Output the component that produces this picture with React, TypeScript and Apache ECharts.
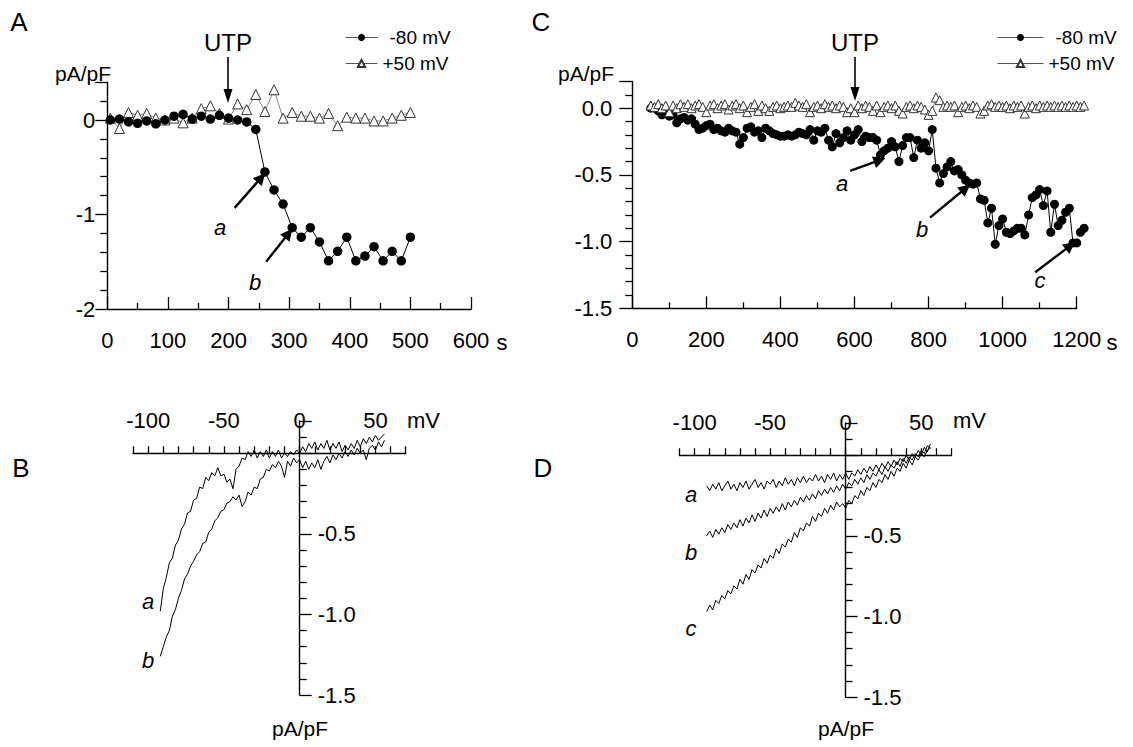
import React, { useEffect, useRef } from 'react';
import * as echarts from 'echarts';

const FONT = "'Liberation Sans', Arial, Helvetica, sans-serif";

// ---------- Panel A (time course, 0-600 s) ----------
const A_TIME = [5, 20, 35, 50, 65, 80, 95, 110, 125, 140, 155, 170, 185, 200, 215, 230, 245, 260, 275, 290, 305, 320, 335, 350, 365, 380, 395, 410, 425, 440, 455, 470, 485, 500];
const A_NEG80 = [0.0, 0.01, -0.02, -0.035, -0.01, -0.04, 0.0, 0.04, 0.06, 0.01, 0.04, 0.01, 0.05, 0.02, 0.0, -0.02, -0.1, -0.55, -0.74, -0.89, -1.14, -1.24, -1.14, -1.29, -1.49, -1.39, -1.24, -1.49, -1.44, -1.34, -1.49, -1.39, -1.49, -1.24];
const A_POS50 = [0.02, -0.09, 0.08, 0.05, 0.07, 0.02, 0.0, 0.02, -0.03, 0.02, 0.12, 0.15, 0.07, 0.01, 0.17, 0.11, 0.27, 0.09, 0.32, 0.02, 0.08, 0.04, 0.04, 0.02, 0.07, -0.06, 0.03, 0.02, 0.02, -0.01, -0.01, 0.02, 0.05, 0.08];
const A_X_LABELS = [0, 100, 200, 300, 400, 500, 600];
const A_Y_LABELS = [-2, -1, 0];

// ---------- Panel C (time course, 0-1200 s) ----------
const C_TIME = [
  50, 60, 70, 80, 90, 100, 110, 120, 130, 140,
  150, 160, 170, 180, 190, 200, 210, 220, 230, 240,
  250, 260, 270, 280, 290, 300, 310, 320, 330, 340,
  350, 360, 370, 380, 390, 400, 410, 420, 430, 440,
  450, 460, 470, 480, 490, 500, 510, 520, 530, 540,
  550, 560, 570, 580, 590, 600, 610, 620, 630, 640,
  650, 660, 670, 680, 690, 700, 710, 720, 730, 740,
  750, 760, 770, 780, 790, 800, 810, 820, 830, 840,
  850, 860, 870, 880, 890, 900, 910, 920, 930, 940,
  950, 960, 970, 980, 990, 1000, 1010, 1020, 1030, 1040,
  1050, 1060, 1070, 1080, 1090, 1100, 1110, 1120, 1130, 1140,
  1150, 1160, 1170, 1180, 1190, 1200, 1210, 1220,
];
const C_NEG80 = [
  0.0, 0.0, -0.02, -0.05, -0.04, -0.06, -0.05, -0.11, -0.08, -0.07,
  -0.09, -0.08, -0.12, -0.16, -0.15, -0.13, -0.12, -0.16, -0.15, -0.17,
  -0.18, -0.15, -0.17, -0.18, -0.27, -0.22, -0.15, -0.14, -0.18, -0.17,
  -0.22, -0.15, -0.17, -0.19, -0.2, -0.21, -0.21, -0.2, -0.21, -0.2,
  -0.18, -0.19, -0.2, -0.16, -0.24, -0.17, -0.18, -0.15, -0.24, -0.29,
  -0.19, -0.26, -0.22, -0.17, -0.24, -0.2, -0.16, -0.25, -0.21, -0.22,
  -0.22, -0.24, -0.35, -0.32, -0.3, -0.25, -0.29, -0.4, -0.28, -0.22,
  -0.22, -0.37, -0.24, -0.3, -0.26, -0.32, -0.16, -0.45, -0.56, -0.49,
  -0.44, -0.4, -0.47, -0.46, -0.5, -0.54, -0.56, -0.57, -0.56, -0.68,
  -0.69, -0.86, -0.75, -1.02, -0.88, -0.83, -0.93, -0.94, -0.92, -0.9,
  -0.9, -0.95, -0.8, -0.67, -0.65, -0.61, -0.73, -0.62, -0.93, -0.72,
  -0.88, -0.84, -0.78, -0.75, -1.01, -1.01, -0.93, -0.9,
];
const C_POS50 = [
  0.02, 0.01, 0.03, 0.0, 0.02, -0.03, 0.02, 0.0, 0.03, 0.01,
  0.03, 0.0, 0.02, 0.03, 0.01, -0.03, 0.02, 0.03, 0.0, 0.02,
  0.03, -0.01, 0.02, 0.03, 0.0, 0.02, -0.03, 0.01, 0.03, -0.02,
  0.02, 0.0, -0.02, 0.01, 0.02, 0.0, 0.01, 0.02, 0.01, 0.04,
  0.02, 0.01, 0.03, -0.03, 0.01, 0.02, 0.0, 0.03, 0.01, 0.02,
  0.0, 0.02, 0.01, -0.03, 0.0, -0.03, 0.02, 0.0, 0.02, 0.01,
  -0.02, 0.02, -0.03, 0.01, 0.02, 0.0, 0.02, -0.02, -0.04, 0.01,
  0.02, 0.0, 0.02, 0.01, -0.01, -0.05, -0.02, 0.08, 0.06, 0.01,
  0.02, 0.01, 0.02, -0.03, 0.01, 0.02, 0.0, 0.02, 0.01, -0.04,
  -0.02, 0.02, 0.03, 0.01, 0.02, 0.01, 0.02, 0.0, 0.02, 0.01,
  0.02, -0.04, 0.01, 0.02, 0.0, 0.02, 0.01, 0.02, 0.01, 0.02,
  0.01, 0.02, 0.01, 0.02, 0.01, 0.02, 0.01, 0.02,
];
const C_X_LABELS = [0, 200, 400, 600, 800, 1000, 1200];
const C_Y_LABELS = [-1.5, -1.0, -0.5, 0.0];

// ---------- Panels B and D (I-V ramps) ----------
const IV_MV = [
  -92, -90, -88, -86, -84, -82, -80, -78, -76, -74,
  -72, -70, -68, -66, -64, -62, -60, -58, -56, -54,
  -52, -50, -48, -46, -44, -42, -40, -38, -36, -34,
  -32, -30, -28, -26, -24, -22, -20, -18, -16, -14,
  -12, -10, -8, -6, -4, -2, 0, 2, 4, 6,
  8, 10, 12, 14, 16, 18, 20, 22, 24, 26,
  28, 30, 32, 34, 36, 38, 40, 42, 44, 46,
  48, 50, 52, 54, 56,
];
const B_A = [
  -0.98, -0.84, -0.77, -0.68, -0.65, -0.57, -0.54, -0.47, -0.44, -0.37,
  -0.36, -0.29, -0.28, -0.21, -0.22, -0.15, -0.17, -0.12, -0.14, -0.09,
  -0.14, -0.13, -0.18, -0.16, -0.22, -0.1, -0.08, -0.03, -0.04, 0.01,
  -0.02, 0.02, -0.03, 0.01, -0.02, 0.02, -0.03, 0.01, -0.02, 0.02,
  -0.03, 0.0, -0.02, 0.01, -0.01, 0.02, 0.0, 0.04, 0.01, 0.06,
  0.03, 0.07, 0.02, 0.06, 0.03, 0.08, 0.02, 0.06, 0.03, 0.07,
  0.01, 0.05, 0.02, 0.06, 0.03, 0.08, 0.04, 0.09, 0.06, 0.1,
  0.07, 0.11, 0.08, 0.1, 0.12,
];
const B_B = [
  -1.26, -1.2, -1.14, -1.1, -1.01, -0.97, -0.9, -0.85, -0.78, -0.75,
  -0.7, -0.67, -0.63, -0.61, -0.56, -0.55, -0.49, -0.47, -0.42, -0.4,
  -0.36, -0.35, -0.31, -0.3, -0.27, -0.29, -0.26, -0.33, -0.3, -0.24,
  -0.26, -0.21, -0.22, -0.16, -0.15, -0.1, -0.11, -0.07, -0.09, -0.05,
  -0.08, -0.15, -0.05, -0.08, -0.03, -0.06, -0.04, -0.09, -0.05, -0.1,
  -0.06, -0.09, -0.04, -0.1, -0.05, -0.02, -0.06, -0.01, -0.04, 0.0,
  -0.03, 0.01, -0.02, 0.02, -0.01, 0.03, 0.0, 0.02, -0.04, 0.03,
  0.05, 0.02, 0.07, 0.04, 0.08,
];
const D_A = [
  -0.19, -0.22, -0.18, -0.21, -0.17, -0.22, -0.19, -0.16, -0.21, -0.18,
  -0.22, -0.17, -0.2, -0.16, -0.21, -0.18, -0.15, -0.2, -0.17, -0.21,
  -0.16, -0.18, -0.15, -0.2, -0.16, -0.19, -0.14, -0.18, -0.15, -0.19,
  -0.14, -0.17, -0.13, -0.17, -0.14, -0.16, -0.12, -0.16, -0.13, -0.17,
  -0.12, -0.15, -0.11, -0.16, -0.12, -0.15, -0.11, -0.15, -0.11, -0.13,
  -0.09, -0.12, -0.08, -0.11, -0.07, -0.1, -0.06, -0.09, -0.05, -0.08,
  -0.04, -0.07, -0.03, -0.06, -0.02, -0.04, 0.0, -0.03, 0.01, -0.01,
  0.03, 0.0, 0.05, 0.02, 0.07,
];
const D_B = [
  -0.5, -0.47, -0.51, -0.46, -0.49, -0.45, -0.48, -0.43, -0.46, -0.42,
  -0.45, -0.4, -0.44, -0.39, -0.42, -0.37, -0.41, -0.36, -0.39, -0.34,
  -0.38, -0.33, -0.36, -0.32, -0.35, -0.3, -0.34, -0.29, -0.32, -0.28,
  -0.31, -0.26, -0.29, -0.25, -0.28, -0.24, -0.27, -0.22, -0.25, -0.21,
  -0.24, -0.2, -0.23, -0.19, -0.22, -0.18, -0.21, -0.17, -0.19, -0.15,
  -0.18, -0.14, -0.17, -0.12, -0.15, -0.11, -0.13, -0.09, -0.12, -0.07,
  -0.1, -0.06, -0.08, -0.04, -0.07, -0.02, -0.05, -0.01, -0.03, 0.01,
  -0.01, 0.03, 0.01, 0.06, 0.04,
];
const D_C = [
  -0.97, -0.93, -0.96, -0.9, -0.92, -0.87, -0.89, -0.84, -0.86, -0.81,
  -0.83, -0.77, -0.8, -0.74, -0.77, -0.71, -0.73, -0.68, -0.7, -0.64,
  -0.67, -0.62, -0.64, -0.58, -0.61, -0.55, -0.57, -0.52, -0.54, -0.48,
  -0.51, -0.45, -0.47, -0.42, -0.44, -0.38, -0.41, -0.36, -0.38, -0.33,
  -0.36, -0.31, -0.34, -0.29, -0.32, -0.3, -0.33, -0.28, -0.3, -0.25,
  -0.27, -0.22, -0.25, -0.2, -0.22, -0.17, -0.2, -0.15, -0.17, -0.12,
  -0.15, -0.1, -0.13, -0.08, -0.1, -0.05, -0.08, -0.03, -0.06, -0.01,
  -0.03, 0.01, -0.01, 0.03, 0.05,
];
const IV_X_LABELS = [-100, -50, 0, 50];
const IV_Y_LABELS = [-1.5, -1.0, -0.5];

const zip = (xs: number[], ys: number[]) => xs.map((x, i) => [x, ys[i]]);

const onlyLabels = (labels: number[], fmt: (v: number) => string) => (v: number) =>
  labels.some((l) => Math.abs(l - v) < 1e-6) ? fmt(v) : '';

type AxOpt = {
  grid: number; min: number; max: number; interval: number; pos: string; offset?: number;
  len: number; minorSplit?: number; minorLen?: number; labelInside?: boolean;
  labels: number[]; fmt: (v: number) => string; margin: number;
};
function valAxis(o: AxOpt) {
  const stroke = { color: '#000', width: 1.3 };
  return {
    type: 'value',
    gridIndex: o.grid,
    min: o.min,
    max: o.max,
    interval: o.interval,
    position: o.pos,
    offset: o.offset || 0,
    axisLine: { show: true, onZero: false, lineStyle: { color: '#000', width: 1.4 } },
    axisTick: { show: true, length: o.len, lineStyle: stroke },
    minorTick: o.minorSplit
      ? { show: true, splitNumber: o.minorSplit, length: o.minorLen, lineStyle: stroke }
      : { show: false },
    axisLabel: {
      show: true,
      inside: !!o.labelInside,
      margin: o.margin,
      formatter: onlyLabels(o.labels, o.fmt),
      color: '#000',
      fontSize: 22,
      fontFamily: FONT,
    },
    splitLine: { show: false },
    minorSplitLine: { show: false },
  };
}

const fInt = (v: number) => String(Math.round(v));
const f1 = (v: number) => v.toFixed(1);

const arrowML = (pairs: number[][][]) => ({
  silent: true,
  symbol: ['none', 'triangle'],
  symbolSize: 12,
  lineStyle: { color: '#000', width: 2.4, type: 'solid' },
  itemStyle: { color: '#000' },
  label: { show: false },
  emphasis: { disabled: true },
  data: pairs.map((p) => [{ coord: p[0] }, { coord: p[1] }]),
});

const txt = (x: number, y: number, text: string, size: number, extra: any = {}) => ({
  type: 'text',
  x,
  y,
  silent: true,
  style: {
    text,
    fill: '#000',
    fontSize: size,
    fontFamily: FONT,
    align: 'center',
    verticalAlign: 'middle',
    ...extra,
  },
});

export default function App() {
  const ref = useRef<HTMLDivElement>(null);
  useEffect(() => {
    document.body.style.margin = '0';
    if (!ref.current) return;
    const chart = echarts.init(ref.current, undefined, { renderer: 'svg' });

    const lineBlack = { color: '#000', width: 1 };
    const lineGrey = { color: '#8a8a8a', width: 1 };

    const tcHeight = 226.8; // A and C plot height
    // B / D: axes cross at zero; moved there with (negative) offsets
    const ivXOffset = -(0.2 / 1.7) * 274; // distance of y=0 from the grid top
    const ivYOffset = -(70 / 180) * 272.5; // distance of x=0 from the grid right edge

    const legendCommon = {
      orient: 'vertical',
      itemHeight: 9,
      itemGap: 7,
      data: ['-80 mV', '+50 mV'],
      selectedMode: false,
      lineStyle: { color: '#555', width: 1 },
      formatter: (n: string) => (n === '-80 mV' ? '{sp|}' + n : n),
      textStyle: { fontSize: 19, color: '#000', fontFamily: FONT, rich: { sp: { width: 7 } } },
    };

    const option: any = {
      animation: false,
      backgroundColor: '#fff',
      textStyle: { fontFamily: FONT },
      grid: [
        { left: 107.3, top: 82.2, width: 363.7, height: tcHeight },
        { left: 632.3, top: 81.5, width: 444.4, height: tcHeight },
        { left: 133, top: 421, width: 272.7, height: 274 },
        { left: 679.5, top: 423, width: 272, height: 274 },
      ],
      xAxis: [
        // time axes: the 'top' slot moved down onto the bottom edge; labels turned below the line
        valAxis({ grid: 0, min: 0, max: 600, interval: 100, pos: 'top', offset: -tcHeight, len: 12, minorSplit: 2, minorLen: 6, labelInside: true, labels: A_X_LABELS, fmt: fInt, margin: 20 }),
        valAxis({ grid: 1, min: 0, max: 1200, interval: 200, pos: 'top', offset: -tcHeight, len: 12, minorSplit: 2, minorLen: 6, labelInside: true, labels: C_X_LABELS, fmt: fInt, margin: 20 }),
        valAxis({ grid: 2, min: -110, max: 70, interval: 10, pos: 'top', offset: ivXOffset, len: 7, labels: IV_X_LABELS, fmt: fInt, margin: 22 }),
        valAxis({ grid: 3, min: -110, max: 70, interval: 10, pos: 'top', offset: ivXOffset, len: 7, labels: IV_X_LABELS, fmt: fInt, margin: 22 }),
      ],
      yAxis: [
        valAxis({ grid: 0, min: -2, max: 0.4, interval: 1, pos: 'left', len: 12, minorSplit: 5, minorLen: 7, labels: A_Y_LABELS, fmt: fInt, margin: 12 }),
        valAxis({ grid: 1, min: -1.5, max: 0.2, interval: 0.5, pos: 'left', len: 13, minorSplit: 5, minorLen: 7, labels: C_Y_LABELS, fmt: f1, margin: 20 }),
        valAxis({ grid: 2, min: -1.5, max: 0.2, interval: 0.5, pos: 'right', offset: ivYOffset, len: 12, minorSplit: 5, minorLen: 7, labels: IV_Y_LABELS, fmt: f1, margin: 18 }),
        valAxis({ grid: 3, min: -1.5, max: 0.2, interval: 0.5, pos: 'right', offset: ivYOffset, len: 12, minorSplit: 5, minorLen: 7, labels: IV_Y_LABELS, fmt: f1, margin: 18 }),
      ],
      legend: [
        { ...legendCommon, left: 340, top: 23, itemWidth: 32 },
        { ...legendCommon, left: 992, top: 23, itemWidth: 46 },
      ],
      series: [
        // Panel A
        {
          type: 'line', name: '+50 mV', xAxisIndex: 0, yAxisIndex: 0, data: zip(A_TIME, A_POS50),
          symbol: 'triangle', symbolSize: 10, itemStyle: { color: '#fff', borderColor: '#333', borderWidth: 1 },
          lineStyle: lineGrey, z: 2,
        },
        {
          type: 'line', name: '-80 mV', xAxisIndex: 0, yAxisIndex: 0, data: zip(A_TIME, A_NEG80),
          symbol: 'circle', symbolSize: 9.5, itemStyle: { color: '#000' }, lineStyle: lineBlack, z: 3,
          markLine: arrowML([
            [[210, -0.93], [254, -0.61]],
            [[262, -1.5], [299, -1.2]],
          ]),
        },
        // Panel C
        {
          type: 'line', name: '-80 mV', xAxisIndex: 1, yAxisIndex: 1, data: zip(C_TIME, C_NEG80), clip: false,
          symbol: 'circle', symbolSize: 9, itemStyle: { color: '#000' }, lineStyle: lineBlack, z: 2,
          markLine: arrowML([
            [[588, -0.47], [668, -0.39]],
            [[804, -0.82], [900, -0.6]],
            [[1088, -1.23], [1183, -1.03]],
          ]),
        },
        {
          type: 'line', name: '+50 mV', xAxisIndex: 1, yAxisIndex: 1, data: zip(C_TIME, C_POS50), clip: false,
          symbol: 'triangle', symbolSize: 9, itemStyle: { color: '#fff', borderColor: '#333', borderWidth: 1 },
          lineStyle: lineGrey, z: 3,
        },
        // Panel B
        { type: 'line', name: 'B a', xAxisIndex: 2, yAxisIndex: 2, data: zip(IV_MV, B_A), showSymbol: false, symbol: 'none', lineStyle: lineBlack },
        { type: 'line', name: 'B b', xAxisIndex: 2, yAxisIndex: 2, data: zip(IV_MV, B_B), showSymbol: false, symbol: 'none', lineStyle: lineBlack },
        // Panel D
        { type: 'line', name: 'D a', xAxisIndex: 3, yAxisIndex: 3, data: zip(IV_MV, D_A), showSymbol: false, symbol: 'none', lineStyle: lineBlack },
        { type: 'line', name: 'D b', xAxisIndex: 3, yAxisIndex: 3, data: zip(IV_MV, D_B), showSymbol: false, symbol: 'none', lineStyle: lineBlack },
        { type: 'line', name: 'D c', xAxisIndex: 3, yAxisIndex: 3, data: zip(IV_MV, D_C), showSymbol: false, symbol: 'none', lineStyle: lineBlack },
      ],
      graphic: [
        // panel letters
        txt(19, 22, 'A', 26),
        txt(541, 22, 'C', 26),
        txt(21, 468, 'B', 26),
        txt(543, 468, 'D', 26),
        // UTP labels and arrows
        txt(228, 42, 'UTP', 24),
        { type: 'line', silent: true, shape: { x1: 228, y1: 57, x2: 228, y2: 92 }, style: { stroke: '#000', lineWidth: 1.6 } },
        { type: 'polygon', silent: true, shape: { points: [[223.5, 89], [232.5, 89], [228, 103]] }, style: { fill: '#000' } },
        txt(855, 42, 'UTP', 24),
        { type: 'line', silent: true, shape: { x1: 855, y1: 57, x2: 855, y2: 90 }, style: { stroke: '#000', lineWidth: 1.6 } },
        { type: 'polygon', silent: true, shape: { points: [[850.5, 87], [859.5, 87], [855, 101]] }, style: { fill: '#000' } },
        // axis unit labels
        txt(83, 73, 'pA/pF', 21),
        txt(586, 73, 'pA/pF', 21),
        txt(300, 728, 'pA/pF', 21),
        txt(846, 728, 'pA/pF', 21),
        txt(502, 342, 's', 22),
        txt(1112, 342, 's', 22),
        txt(407, 420, 'mV', 22, { align: 'left' }),
        txt(953, 420, 'mV', 22, { align: 'left' }),
        // italic trace labels
        txt(220, 227, 'a', 22, { fontStyle: 'italic' }),
        txt(255, 282, 'b', 22, { fontStyle: 'italic' }),
        txt(842, 183, 'a', 22, { fontStyle: 'italic' }),
        txt(922, 229, 'b', 22, { fontStyle: 'italic' }),
        txt(1040, 280, 'c', 22, { fontStyle: 'italic' }),
        txt(148, 601, 'a', 22, { fontStyle: 'italic' }),
        txt(148, 660, 'b', 22, { fontStyle: 'italic' }),
        txt(691, 494, 'a', 22, { fontStyle: 'italic' }),
        txt(691, 552, 'b', 22, { fontStyle: 'italic' }),
        txt(691, 628, 'c', 22, { fontStyle: 'italic' }),
      ],
    };

    chart.setOption(option);
    return () => chart.dispose();
  }, []);

  return <div ref={ref} style={{ width: 1133, height: 747 }} />;
}
